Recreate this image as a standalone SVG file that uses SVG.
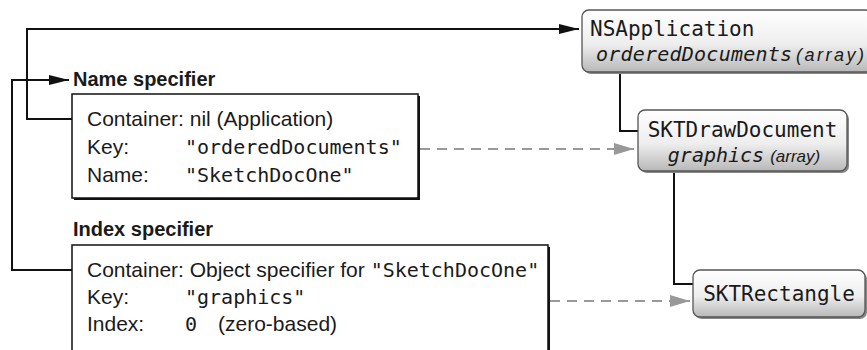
<svg xmlns="http://www.w3.org/2000/svg" width="867" height="350" viewBox="0 0 867 350">
<style>
.sans{font-family:"Liberation Sans",Arial,sans-serif;font-size:21px;fill:#1a1a1a}
.title{font-family:"Liberation Sans",Arial,sans-serif;font-size:20px;font-weight:bold;fill:#1a1a1a}
.mono{font-family:"DejaVu Sans Mono",monospace;font-size:20px;fill:#1a1a1a}
.node{font-family:"DejaVu Sans Mono",monospace;font-size:21px;fill:#1a1a1a}
.nodei{font-family:"DejaVu Sans Mono",monospace;font-size:20px;font-style:italic;fill:#1a1a1a}
.small{font-family:"Liberation Sans",Arial,sans-serif;font-size:17px;font-style:italic;fill:#1a1a1a}
.box{fill:#fff;stroke:#111;stroke-width:1.5}
.shadow{fill:#111}
.nbox{fill:url(#silver);stroke:#555;stroke-width:1.3}
.nshadow{fill:#888}
.conn{fill:none;stroke:#111;stroke-width:2}
.dash{fill:none;stroke:#999;stroke-width:2;stroke-dasharray:10 7}
</style>
<defs>
<linearGradient id="silver" x1="0" y1="0" x2="0" y2="1">
<stop offset="0" stop-color="#ffffff"/>
<stop offset="0.55" stop-color="#eeeeee"/>
<stop offset="1" stop-color="#b8b8b8"/>
</linearGradient>
<marker id="ah" markerWidth="20" markerHeight="10" refX="20" refY="5" orient="auto" markerUnits="userSpaceOnUse">
<path d="M0,0 L20,5 L0,10 Z" fill="#111"/>
</marker>
<marker id="ahg" markerWidth="20" markerHeight="12" refX="20" refY="6" orient="auto" markerUnits="userSpaceOnUse">
<path d="M0,0 L20,6 L0,12 Z" fill="#999"/>
</marker>
</defs>

<g id="connectors">
<path class="conn" d="M72,119 H27 V29 H579" marker-end="url(#ah)"/>
<path class="conn" d="M72,270 H12 V80 H69" marker-end="url(#ah)"/>
<path class="conn" d="M620,72 V131 H638"/>
<path class="conn" d="M674,171 V284 H693"/>
<path class="dash" d="M420,149 H634" marker-end="url(#ahg)"/>
<path class="dash" d="M550,301 H690" marker-end="url(#ahg)"/>
</g>

<g id="name-specifier">
<text class="title" x="73" y="86">Name specifier</text>
<rect class="shadow" x="74" y="96" width="346" height="104"/>
<rect class="box" x="72" y="94" width="346" height="104"/>
<text class="sans" x="87" y="126">Container: nil (Application)</text>
<text class="sans" x="87" y="154">Key:</text>
<text class="mono" x="185" y="154">"orderedDocuments"</text>
<text class="sans" x="87" y="182">Name:</text>
<text class="mono" x="185" y="182">"SketchDocOne"</text>
</g>

<g id="index-specifier">
<text class="title" x="73" y="236">Index specifier</text>
<rect class="shadow" x="74" y="247" width="476" height="120"/>
<rect class="box" x="72" y="245" width="476" height="120"/>
<text class="sans" x="87" y="277">Container: Object specifier for <tspan class="mono">"SketchDocOne"</tspan></text>
<text class="sans" x="87" y="304">Key:</text>
<text class="mono" x="185" y="304">"graphics"</text>
<text class="sans" x="87" y="331">Index:</text>
<text class="mono" x="185" y="331">0</text>
<text class="sans" x="218" y="331">(zero-based)</text>
</g>

<g id="nsapplication">
<rect class="nshadow" x="584" y="12" width="290" height="62" rx="7"/>
<rect class="nbox" x="582" y="10" width="290" height="62" rx="7"/>
<text class="node" x="590" y="36">NSApplication</text>
<text class="nodei" x="596" y="61" textLength="196" lengthAdjust="spacing">orderedDocuments</text>
<text class="small" x="796" y="61" style="font-size:18px" textLength="68" lengthAdjust="spacing">(array)</text>
</g>

<g id="sktdrawdocument">
<rect class="nshadow" x="640" y="112" width="209" height="61" rx="7"/>
<rect class="nbox" x="638" y="110" width="209" height="61" rx="7"/>
<text class="node" x="742.5" y="137" text-anchor="middle">SKTDrawDocument</text>
<text x="744" y="162" text-anchor="middle"><tspan class="nodei">graphics</tspan><tspan class="small" dx="6">(array)</tspan></text>
</g>

<g id="sktrectangle">
<rect class="nshadow" x="695" y="272" width="172" height="47" rx="7"/>
<rect class="nbox" x="693" y="270" width="172" height="47" rx="7"/>
<text class="node" x="779" y="301" text-anchor="middle">SKTRectangle</text>
</g>
</svg>
